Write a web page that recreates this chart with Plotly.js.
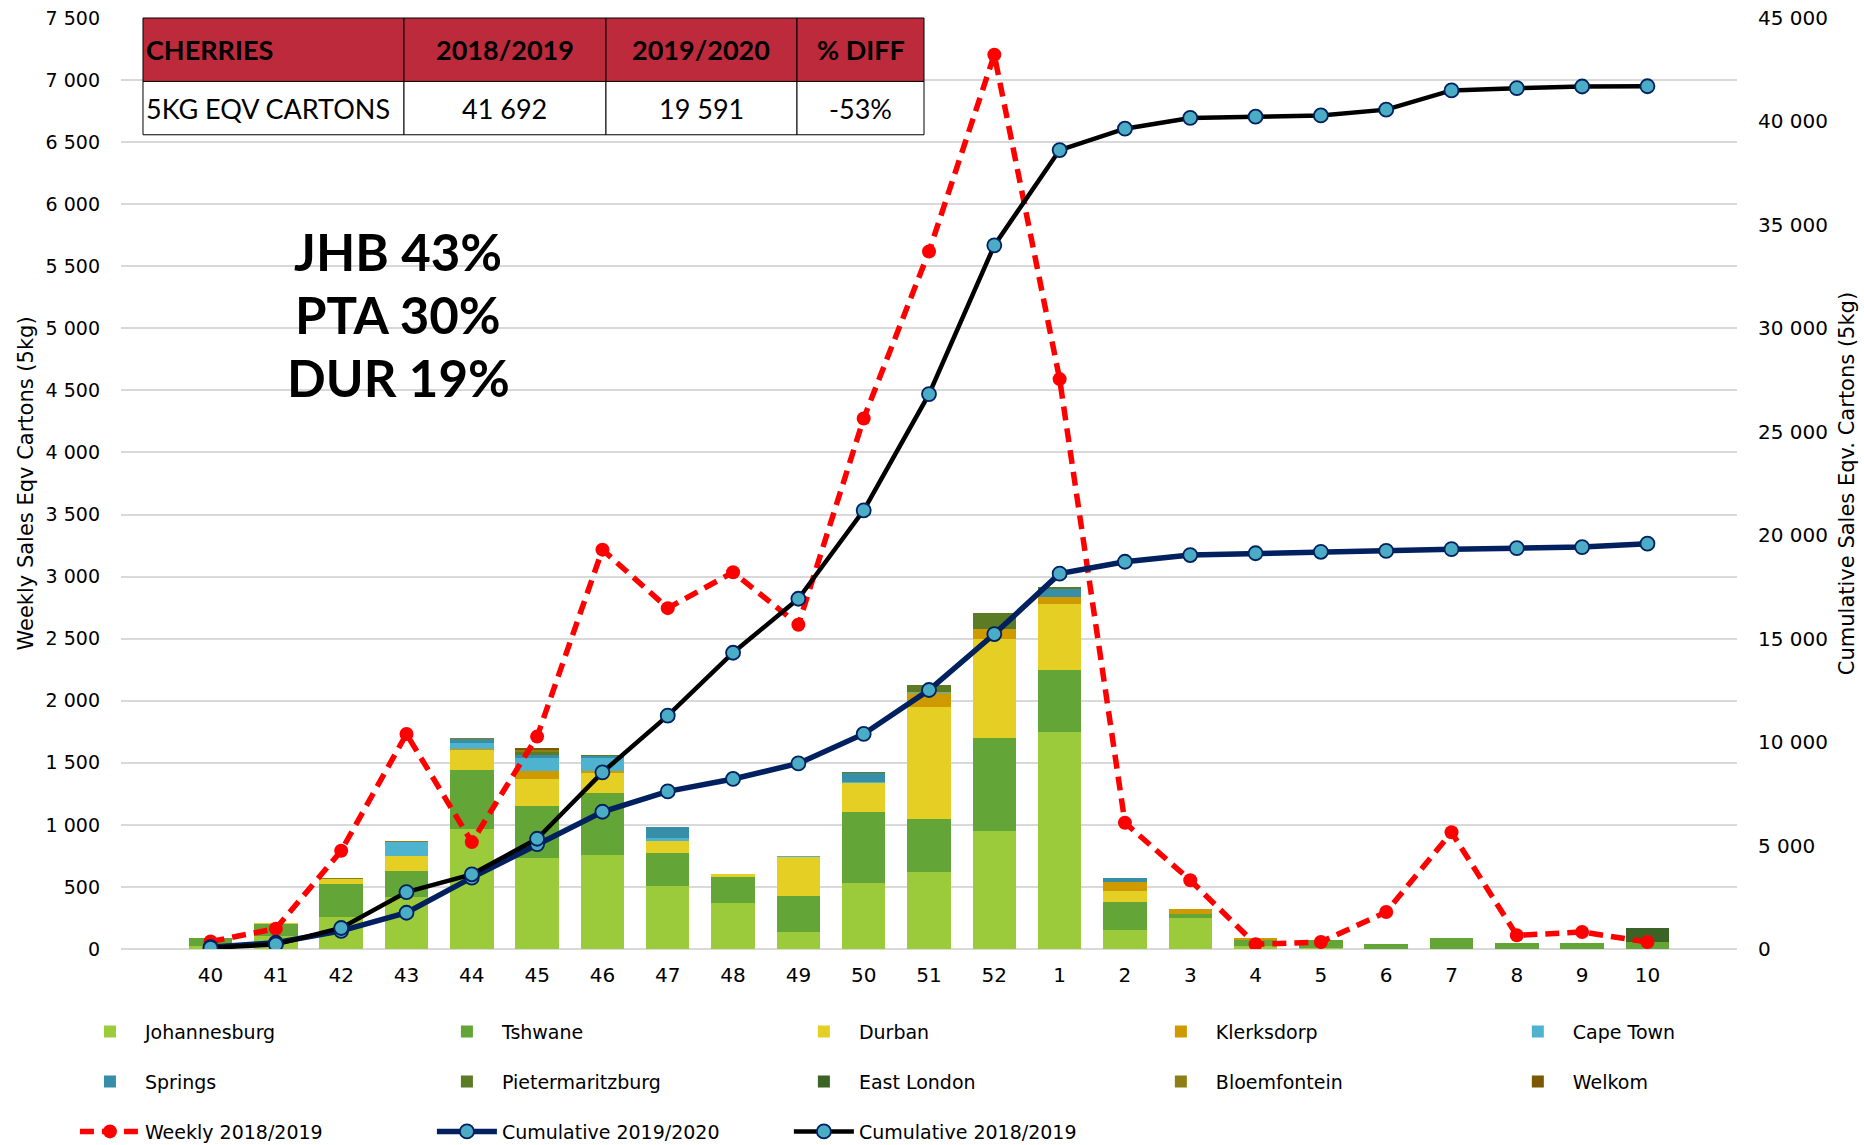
<!DOCTYPE html>
<html><head><meta charset="utf-8">
<script src="https://cdn.plot.ly/plotly-3.0.1.min.js"></script>
<style>html,body{margin:0;padding:0;background:#fff}</style></head>
<body><div id="chart" style="width:1864px;height:1145px"></div>
<script>
const weeks = ['40','41','42','43','44','45','46','47','48','49','50','51','52','1','2','3','4','5','6','7','8','9','10'];

const johannesburg     = [24, 102, 258, 415, 967, 732, 757, 504, 369, 135, 530, 624, 949, 1747, 156, 247, 22, 10, 0, 0, 0, 0, 0];
const tshwane          = [65, 97, 269, 215, 477, 423, 501, 266, 213, 294, 574, 425, 753, 500, 220, 35, 48, 60, 43, 86, 48, 51, 54];
const durban           = [3, 14, 38, 118, 161, 213, 161, 100, 22, 312, 237, 903, 796, 532, 89, 0, 0, 0, 0, 0, 0, 0, 0];
const klerksdorp       = [0, 0, 0, 0, 5, 62, 11, 0, 0, 0, 0, 108, 81, 54, 73, 43, 16, 0, 0, 0, 0, 0, 0];
const capeTown         = [0, 0, 0, 118, 48, 105, 108, 24, 0, 5, 8, 11, 0, 0, 0, 0, 0, 0, 0, 0, 0, 0, 0];
const springs          = [0, 0, 0, 0, 32, 27, 13, 89, 0, 6, 67, 0, 0, 67, 38, 0, 0, 0, 0, 0, 0, 0, 0];
const pietermaritzburg = [0, 0, 0, 0, 0, 27, 11, 0, 0, 0, 8, 54, 126, 19, 0, 0, 0, 0, 0, 0, 0, 0, 0];
const eastLondon       = [0, 0, 0, 0, 0, 0, 0, 0, 0, 0, 0, 0, 0, 0, 0, 0, 0, 0, 0, 0, 0, 0, 113];
const bloemfontein     = [0, 0, 11, 8, 8, 16, 0, 0, 0, 0, 0, 0, 0, 0, 0, 0, 0, 0, 0, 0, 0, 0, 0];
const welkom           = [0, 0, 0, 0, 0, 16, 0, 0, 0, 0, 0, 0, 0, 0, 0, 0, 0, 0, 0, 0, 0, 0, 0];

const weekly2018      = [60, 164, 791, 1732, 861, 1711, 3217, 2746, 3035, 2612, 4274, 5619, 7204, 4591, 1017, 554, 38, 56, 298, 940, 110, 137, 56];
const cumulative2020  = [88, 301, 877, 1752, 3451, 5072, 6634, 7617, 8220, 8971, 10395, 12519, 15223, 18142, 18717, 19042, 19128, 19198, 19241, 19327, 19375, 19426, 19591];
const cumulative2019  = [60, 224, 1015, 2750, 3610, 5330, 8540, 11280, 14320, 16930, 21200, 26820, 34010, 38615, 39650, 40170, 40230, 40290, 40570, 41500, 41610, 41690, 41700];

const tableHeader = ['CHERRIES', '2018/2019', '2019/2020', '% DIFF'];
const tableRow    = ['5KG EQV CARTONS', '41 692', '19 591', '-53%'];
const shareLines  = ['JHB 43%', 'PTA 30%', 'DUR 19%'];

const FONT = '"DejaVu Sans", sans-serif';
const TFONT = 'Lato, "Open Sans", sans-serif';

const cities = [
  {name:'Johannesburg', y:johannesburg, color:'#9BCB3B', legend:'legend'},
  {name:'Tshwane', y:tshwane, color:'#63A537', legend:'legend2'},
  {name:'Durban', y:durban, color:'#E5CF24', legend:'legend3'},
  {name:'Klerksdorp', y:klerksdorp, color:'#CE9A00', legend:'legend4'},
  {name:'Cape Town', y:capeTown, color:'#4EB3CF', legend:'legend5'},
  {name:'Springs', y:springs, color:'#378EA8', legend:'legend'},
  {name:'Pietermaritzburg', y:pietermaritzburg, color:'#5B7B24', legend:'legend2'},
  {name:'East London', y:eastLondon, color:'#3B6325', legend:'legend3'},
  {name:'Bloemfontein', y:bloemfontein, color:'#8D7F13', legend:'legend4'},
  {name:'Welkom', y:welkom, color:'#7A5900', legend:'legend5'}
];

const traces = cities.map(c => ({
  type:'bar', x:weeks, y:c.y, name:c.name,
  marker:{color:c.color, line:{width:0}},
  legend:c.legend, legendgroup:c.name
}));

traces.push({
  type:'scatter', mode:'lines+markers', x:weeks, y:weekly2018, name:'Weekly 2018/2019',
  line:{color:'#FF0000', width:5.5, dash:'14px,8px'},
  marker:{color:'#FF0000', size:14},
  legend:'legend', legendgroup:'w'
});
traces.push({
  type:'scatter', mode:'lines+markers', x:weeks, y:cumulative2020, name:'Cumulative 2019/2020', yaxis:'y2',
  line:{color:'#002060', width:5.5},
  marker:{color:'#4BACC6', size:14, line:{color:'#002060', width:1.8}},
  legend:'legend2', legendgroup:'c20'
});
traces.push({
  type:'scatter', mode:'lines+markers', x:weeks, y:cumulative2019, name:'Cumulative 2018/2019', yaxis:'y2',
  line:{color:'#000000', width:4.5},
  marker:{color:'#4BACC6', size:14, line:{color:'#002060', width:1.8}},
  legend:'legend3', legendgroup:'c19'
});

// table geometry (paper coordinates)
const colEdges = [0.01361, 0.17512, 0.30012, 0.41832, 0.49691];
const rowEdges = [1.0, 0.93186, 0.87457];
const shapes = [];
const annotations = [];
for (let r = 0; r < 2; r++) {
  const vals = r === 0 ? tableHeader : tableRow;
  for (let c = 0; c < 4; c++) {
    shapes.push({type:'rect', xref:'paper', yref:'paper', layer:'above',
      x0:colEdges[c], x1:colEdges[c+1], y0:rowEdges[r+1], y1:rowEdges[r],
      fillcolor: r === 0 ? '#BD2A3B' : '#FFFFFF', line:{color:'#000000', width:1}});
    const left = c === 0;
    annotations.push({xref:'paper', yref:'paper',
      x: left ? colEdges[c] + 0.0006 : (colEdges[c] + colEdges[c+1]) / 2,
      y: (rowEdges[r] + rowEdges[r+1]) / 2,
      xanchor: left ? 'left' : 'center', yanchor:'middle', showarrow:false,
      text: vals[c],
      font:{family:TFONT, size:27, color:'#000000', weight: r === 0 ? 'bold' : 'normal'}});
  }
}
const shareY = [0.7488, 0.6811, 0.6134];
shareLines.forEach((t, i) => annotations.push({
  xref:'paper', yref:'paper', x:0.1715, y:shareY[i], xanchor:'center', yanchor:'middle',
  text:t, showarrow:false,
  font:{family:TFONT, size:51, color:'#000000', weight:'bold'}
}));

const legendBase = {
  orientation:'v', traceorder:'grouped', tracegroupgap:22.2,
  font:{family:FONT, size:19, color:'#000000'},
  yanchor:'top', xanchor:'left', y:-0.0685, itemwidth:60,
  bgcolor:'rgba(0,0,0,0)'
};
const colStart = -0.0285, colStep = 0.2209;

const layout = {
  width:1864, height:1145,
  margin:{l:121, r:127, t:18, b:196, autoexpand:false},
  paper_bgcolor:'#ffffff', plot_bgcolor:'#ffffff',
  separators:'. ',
  barmode:'stack', bargap:0.335,
  font:{family:FONT, size:20, color:'#000000'},
  xaxis:{type:'category', showgrid:false, zeroline:false, showline:false, ticks:'',
    tickfont:{family:FONT, size:20, color:'#000000'}, ticklabelstandoff:12},
  yaxis:{range:[0,7500], dtick:500, tickformat:',d', separatethousands:true,
    showgrid:true, gridcolor:'#D9D9D9', gridwidth:2, zeroline:true, zerolinecolor:'#D9D9D9', zerolinewidth:2,
    showline:false, ticks:'', tickfont:{family:FONT, size:19, color:'#000000'}, ticklabelstandoff:20,
    title:{text:'Weekly Sales Eqv Cartons (5kg)', font:{family:FONT, size:21, color:'#000000'}, standoff:6}},
  yaxis2:{range:[0,45000], dtick:5000, tickformat:',d', separatethousands:true, overlaying:'y', side:'right',
    showgrid:false, zeroline:false, showline:false, ticks:'', tickfont:{family:FONT, size:20, color:'#000000'}, ticklabelstandoff:20,
    title:{text:'Cumulative Sales Eqv. Cartons (5kg)', font:{family:FONT, size:21, color:'#000000'}, standoff:12}},
  legend: Object.assign({}, legendBase, {x:colStart}),
  legend2: Object.assign({}, legendBase, {x:colStart + colStep}),
  legend3: Object.assign({}, legendBase, {x:colStart + 2*colStep}),
  legend4: Object.assign({}, legendBase, {x:colStart + 3*colStep}),
  legend5: Object.assign({}, legendBase, {x:colStart + 4*colStep}),
  shapes: shapes,
  annotations: annotations
};

Plotly.newPlot('chart', traces, layout, {displayModeBar:false, staticPlot:true});
</script></body></html>
